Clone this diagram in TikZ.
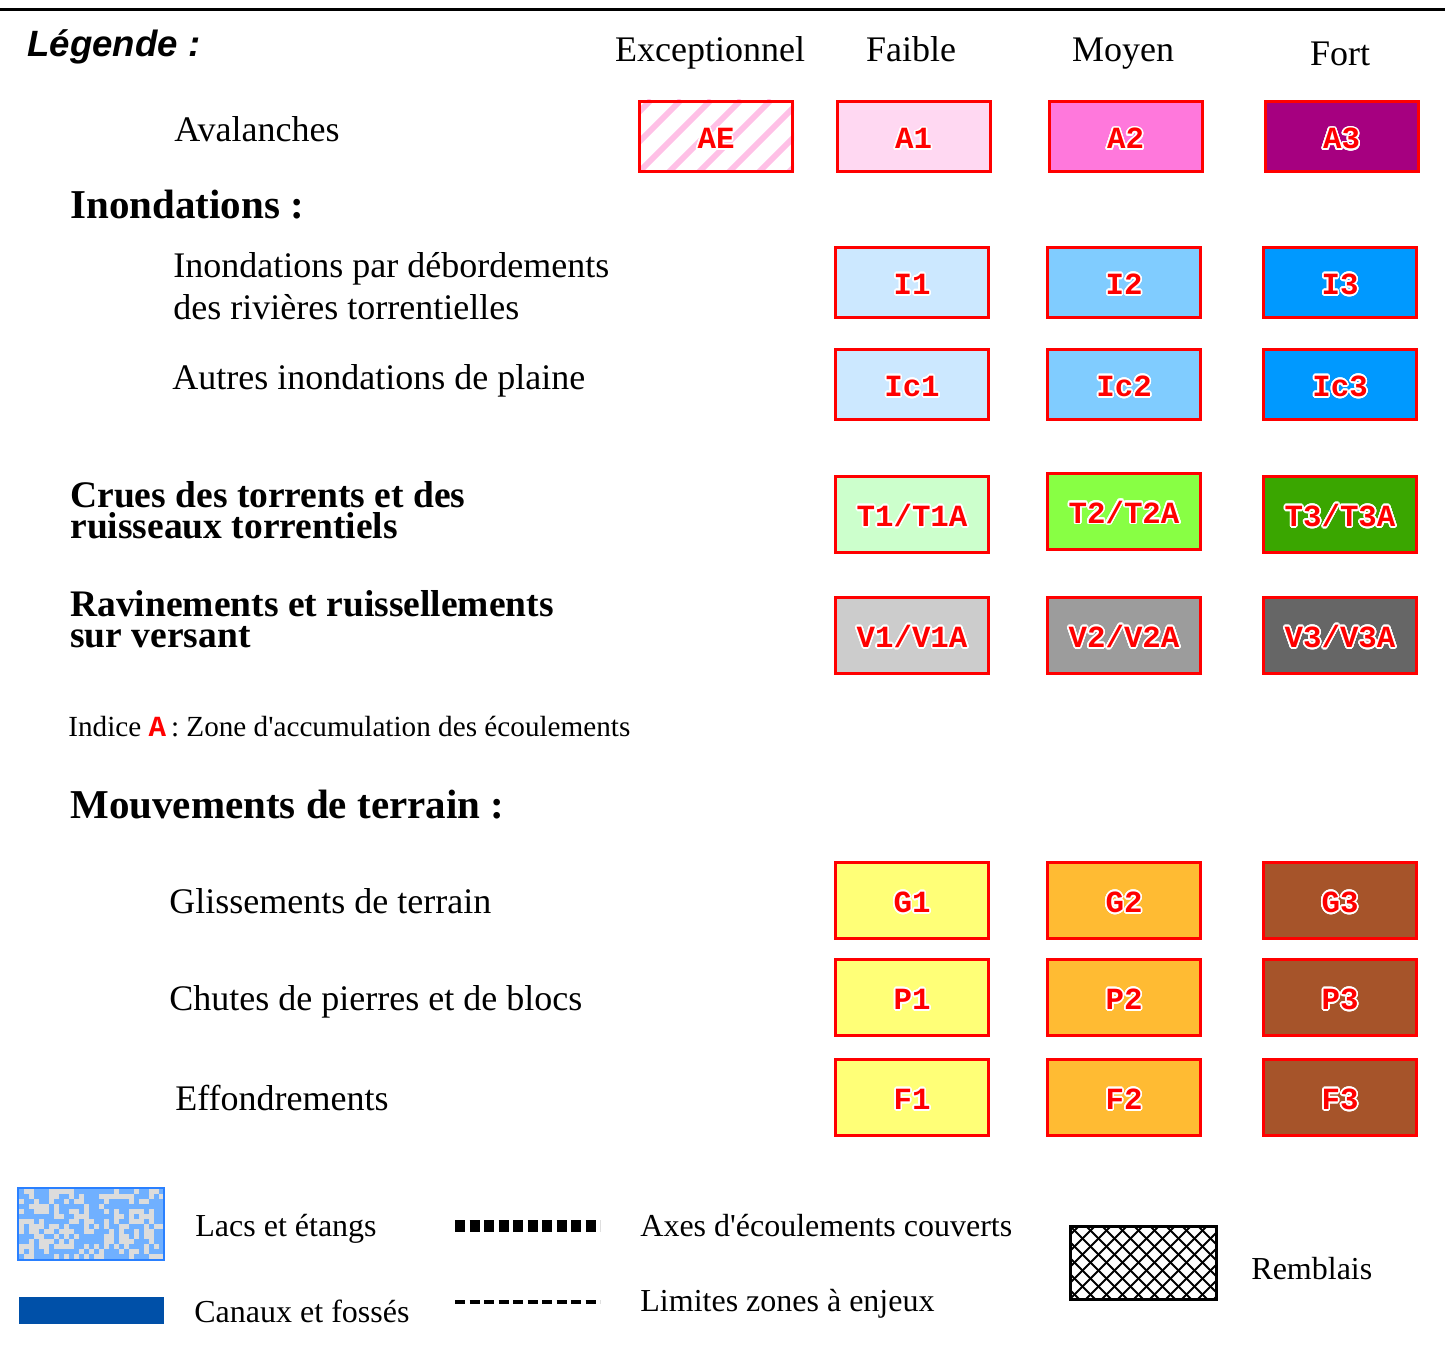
\documentclass[tikz,border=0pt]{standalone}
\usepackage{fontspec}
\usepackage{contour}
\setmainfont{Liberation Serif}
\newfontfamily\plainserif{Liberation Serif}
\newfontfamily\codefont{Liberation Mono}
\newfontfamily\headfont{Liberation Sans}
\contourlength{0.8pt}
\contournumber{24}

\definecolor{aeStripe}{RGB}{255,192,230}
\definecolor{aOne}{RGB}{255,216,242}
\definecolor{aTwo}{RGB}{255,120,220}
\definecolor{aThree}{RGB}{166,0,128}
\definecolor{iOne}{RGB}{204,232,255}
\definecolor{iTwo}{RGB}{128,204,255}
\definecolor{iThree}{RGB}{0,153,255}
\definecolor{tOne}{RGB}{204,255,204}
\definecolor{tTwo}{RGB}{136,255,68}
\definecolor{tThree}{RGB}{58,166,0}
\definecolor{vOne}{RGB}{204,204,204}
\definecolor{vTwo}{RGB}{156,156,156}
\definecolor{vThree}{RGB}{102,102,102}
\definecolor{gOne}{RGB}{255,255,119}
\definecolor{gTwo}{RGB}{255,187,51}
\definecolor{gThree}{RGB}{166,84,42}
\definecolor{lakeBlue}{RGB}{112,176,255}
\definecolor{lakeGray}{RGB}{220,220,220}
\definecolor{lakeEdge}{RGB}{42,128,255}
\definecolor{canalBlue}{RGB}{0,80,168}

\newcommand{\zlab}[1]{\contour{white}{#1}}
\newcommand{\apos}{{\plainserif'}}

\tikzset{
  zone/.style={draw=red, line width=1.5pt, minimum width=76.5pt, minimum height=35pt,
    inner sep=0pt, text=red, text height=12pt, text depth=0pt,
    font=\codefont\bfseries\fontsize{15.4}{15}\selectfont},
  tallzone/.style={zone, minimum height=38pt},
  colhead/.style={anchor=base, inner sep=0pt, font=\fontsize{18}{21}\selectfont},
  item/.style={anchor=base west, inner sep=0pt, align=left, font=\fontsize{18}{21}\selectfont},
  theme/.style={anchor=base west, inner sep=0pt, align=left, font=\bfseries\fontsize{20.5}{24}\selectfont},
  subtheme/.style={anchor=base west, inner sep=0pt, align=left, font=\bfseries\fontsize{18.75}{15.5}\selectfont},
  extra/.style={anchor=base west, inner sep=0pt, font=\fontsize{16}{19}\selectfont}
}

\begin{document}
\begin{tikzpicture}[x=0.5pt, y=-0.5pt]
  \useasboundingbox (0,0) rectangle (1445,1353);

  % Trait du haut
  \coordinate (topL) at (0,10);
  \coordinate (topR) at (1445,10);
  \draw[line width=1.5pt] (topL) -- (topR);

  % Titre et colonnes
  \node[anchor=base west, inner sep=0pt, font=\headfont\bfseries\itshape\fontsize{18.3}{22}\selectfont] (titre) at (27,57) {Légende :};
  \node[colhead] (hExc) at (710,62) {Exceptionnel};
  \node[colhead] (hFai) at (911,62) {Faible};
  \node[colhead] (hMoy) at (1123,62) {Moyen};
  \node[colhead] (hFor) at (1340,66) {Fort};

  % Avalanches
  \node[item] (tAval) at (174,142) {Avalanches};
  \begin{scope}
    \clip (638,100) rectangle (794,173);
    \foreach \s in {-90,-60,...,180}
      \draw[aeStripe, line width=3pt] (638+\s,173) -- ++(73,-73);
  \end{scope}
  \node[zone] (AE) at (716,137) {\zlab{AE}};
  \node[zone, fill=aOne] (A1) at (913.5,137) {\zlab{A1}};
  \node[zone, fill=aTwo] (A2) at (1125.5,137) {\zlab{A2}};
  \node[zone, fill=aThree] (A3) at (1341.5,137) {\zlab{A3}};

  % Inondations
  \node[theme] (tInond) at (70,219) {Inondations :};
  \node[item] (tDebord) at (173,320) {Inondations par débordements\\des rivières torrentielles};
  \node[zone, fill=iOne] (I1) at (912,282.5) {\zlab{I1}};
  \node[zone, fill=iTwo] (I2) at (1124,282.5) {\zlab{I2}};
  \node[zone, fill=iThree] (I3) at (1340,282.5) {\zlab{I3}};

  \node[item] (tPlaine) at (172,390) {Autres inondations de plaine};
  \node[zone, fill=iOne] (Ic1) at (912,384.5) {\zlab{Ic1}};
  \node[zone, fill=iTwo] (Ic2) at (1124,384.5) {\zlab{Ic2}};
  \node[zone, fill=iThree] (Ic3) at (1340,384.5) {\zlab{Ic3}};

  % Crues torrentielles
  \node[subtheme] (tCrues) at (70,538) {Crues des torrents et des\\ruisseaux torrentiels};
  \node[tallzone, fill=tOne] (T1) at (912,514.5) {\zlab{T1/T1A}};
  \node[tallzone, fill=tTwo] (T2) at (1124,511) {\zlab{T2/T2A}};
  \node[tallzone, fill=tThree] (T3) at (1340,514.5) {\zlab{T3/T3A}};

  % Ravinements
  \node[subtheme] (tRavin) at (70,647) {Ravinements et ruissellements\\sur versant};
  \node[tallzone, fill=vOne] (V1) at (912,635.5) {\zlab{V1/V1A}};
  \node[tallzone, fill=vTwo] (V2) at (1124,635.5) {\zlab{V2/V2A}};
  \node[tallzone, fill=vThree] (V3) at (1340,635.5) {\zlab{V3/V3A}};

  \node[anchor=base west, inner sep=0pt, font=\fontsize{14.6}{17}\selectfont] (tIndice) at (68,736)
    {Indice {\codefont\bfseries\color{red}A}\,: Zone d\apos accumulation des écoulements};

  % Mouvements de terrain
  \node[theme] (tMouv) at (70,818) {Mouvements de terrain :};
  \node[item] (tGliss) at (169,913) {Glissements de terrain};
  \node[tallzone, fill=gOne] (G1) at (912,900.5) {\zlab{G1}};
  \node[tallzone, fill=gTwo] (G2) at (1124,900.5) {\zlab{G2}};
  \node[tallzone, fill=gThree] (G3) at (1340,900.5) {\zlab{G3}};

  \node[item] (tChute) at (169,1010) {Chutes de pierres et de blocs};
  \node[tallzone, fill=gOne] (P1) at (912,997.5) {\zlab{P1}};
  \node[tallzone, fill=gTwo] (P2) at (1124,997.5) {\zlab{P2}};
  \node[tallzone, fill=gThree] (P3) at (1340,997.5) {\zlab{P3}};

  \node[item] (tEffon) at (175,1110) {Effondrements};
  \node[tallzone, fill=gOne] (F1) at (912,1097.5) {\zlab{F1}};
  \node[tallzone, fill=gTwo] (F2) at (1124,1097.5) {\zlab{F2}};
  \node[tallzone, fill=gThree] (F3) at (1340,1097.5) {\zlab{F3}};

  % Lacs et etangs (motif)
  \fill[lakeBlue] (18,1188) rectangle (164,1260);
  \pgfmathsetseed{11}
  \foreach \i in {0,...,28}{
    \foreach \j in {0,...,13}{
      \pgfmathsetmacro{\r}{rnd}
      \ifdim\r pt<0.4pt
        \fill[lakeGray] (19+5*\i,1189+5*\j) rectangle ++(5,5);
      \fi
    }
  }
  \draw[lakeEdge, line width=1pt] (18,1188) rectangle (164,1260);
  \node[extra] (tLacs) at (195,1236) {Lacs et étangs};

  % Canaux
  \fill[canalBlue] (19,1297) rectangle (164,1324);
  \node[extra] (tCanaux) at (194,1322) {Canaux et fossés};

  % Traits
  \coordinate (axS) at (455,1226);
  \coordinate (axE) at (600,1226);
  \draw[line width=6pt, dash pattern=on 5pt off 2.25pt] (axS) -- (axE);
  \node[extra] (tAxes) at (640,1236) {Axes d\apos écoulements couverts};

  \coordinate (limS) at (455,1302);
  \coordinate (limE) at (600,1302);
  \draw[line width=2pt, dash pattern=on 5pt off 2.25pt] (limS) -- (limE);
  \node[extra] (tLimites) at (640,1311) {Limites zones à enjeux};

  % Remblais
  \begin{scope}
    \clip (1070,1226) rectangle (1216,1299);
    \foreach \s in {-80,-64,...,160} {
      \draw[line width=1pt] (1070+\s,1299) -- ++(73,-73);
      \draw[line width=1pt] (1070+\s,1226) -- ++(73,73);
    }
  \end{scope}
  \draw[line width=1.5pt] (1070,1226) rectangle (1216,1299);
  \node[extra] (tRemb) at (1251,1279) {Remblais};
\end{tikzpicture}
\end{document}
